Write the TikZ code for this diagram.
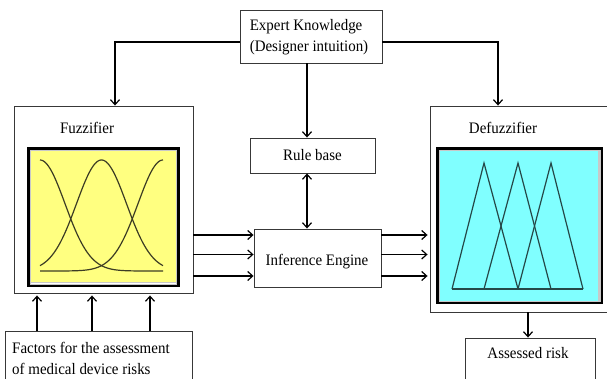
\documentclass[tikz,border=0pt]{standalone}
\usepackage{fontspec}
\setmainfont{Liberation Serif}[FakeStretch=0.935]
\usetikzlibrary{arrows.meta}

\definecolor{fuzzyellow}{HTML}{FFFF80}
\definecolor{defuzzcyan}{HTML}{80FFFF}
\definecolor{boxline}{HTML}{383838}
\definecolor{mfcurve}{HTML}{3C3C24}
\definecolor{mftri}{HTML}{254848}
\definecolor{innerrim}{HTML}{C8C8C8}

\tikzset{
  box/.style={draw=boxline, line width=0.9pt, fill=white, inner sep=0pt},
  lbl/.style={font=\fontsize{16}{21}\selectfont, inner sep=0pt, text=black},
  arr/.style={draw=black, line width=1.3pt, -{Straight Barb[length=5pt,width=9pt,line width=1.2pt]}},
  darr/.style={draw=black, line width=1.3pt, {Straight Barb[length=5pt,width=9pt,line width=1.2pt]}-{Straight Barb[length=5pt,width=9pt,line width=1.2pt]}},
  curve/.style={draw=mfcurve, line width=1.2pt},
  tri/.style={draw=mftri, line width=1.2pt, line join=miter},
}

\begin{document}
\begin{tikzpicture}[x=1pt, y=-1pt]
\useasboundingbox (0,0) rectangle (607,379);
\clip (0,0) rectangle (607,379);

% ---------- outer stage boxes ----------
\node[box, minimum width=179pt, minimum height=187pt] (fuzz) at (103.5,199.5) {};
\node[box, minimum width=200pt, minimum height=206pt] (defuzz) at (530,209) {};

% ---------- fuzzifier panel ----------
\node[lbl] (fuzzlabel) at (87,128) {Fuzzifier};
\fill[black] (27,147) rectangle (180,287);
\fill[innerrim] (30,150) rectangle (177,285);
\fill[fuzzyellow] (31,151) rectangle (176,282);
\fill[white] (31,282.6) rectangle (176,284);
\begin{scope}
  \clip (31,151) rectangle (176,282);
  \draw[curve] plot[domain=40:163, samples=90, smooth] (\x,{271-111*exp(-((\x-40)^2)/1250)});
  \draw[curve] plot[domain=40:163, samples=90, smooth] (\x,{271-111*exp(-((\x-101.5)^2)/1250)});
  \draw[curve] plot[domain=40:163, samples=90, smooth] (\x,{271-111*exp(-((\x-163)^2)/1250)});
\end{scope}

% ---------- defuzzifier panel ----------
\node[lbl] (defuzzlabel) at (503,128) {Defuzzifier};
\fill[black] (436,147) rectangle (603,304);
\fill[innerrim] (439,150) rectangle (601,302);
\fill[defuzzcyan] (440,151) rectangle (598,301);
\draw[tri] (452,289) -- (484,163) -- (518,289);
\draw[tri] (484,289) -- (518,163) -- (551,289);
\draw[tri] (518,289) -- (551,163) -- (583,289);
\draw[tri] (452,289) -- (583,289);

% ---------- central boxes ----------
\node[box, minimum width=142pt, minimum height=53pt] (expert) at (311,36.5) {};
\node[lbl, align=left] (experttext) at (309,37.5) {Expert Knowledge\\(Designer intuition)};
\node[box, minimum width=125pt, minimum height=35pt] (rules) at (312.5,155.5) {};
\node[lbl] (rulestext) at (312.5,155) {Rule base};
\node[box, minimum width=127pt, minimum height=58pt] (infer) at (317.5,258) {};
\node[lbl] (infertext) at (317,262) {Inference Engine};

% ---------- input and output boxes ----------
\node[box, minimum width=187pt, minimum height=64pt] (factors) at (98.5,363) {};
\node[lbl, align=left, anchor=west] (factorstext) at (12,358.5) {Factors for the assessment\\of medical device risks};
\node[box, minimum width=130pt, minimum height=57pt] (assessed) at (530,366.5) {};
\node[lbl] (assessedtext) at (528,353) {Assessed risk};

% ---------- helper coordinates ----------
\coordinate (hy) at (0,42);
\coordinate (lx) at (115,0);
\coordinate (rx) at (498,0);
\coordinate (mx) at (307,0);
\coordinate (r1) at (0,235);
\coordinate (r2) at (0,254.5);
\coordinate (r3) at (0,276);
\coordinate (i1) at (37,0);
\coordinate (i2) at (92,0);
\coordinate (i3) at (150,0);
\coordinate (ox) at (528,0);

% ---------- connectors ----------
\draw[arr] (expert.west |- hy) -| (fuzz.north -| lx);
\draw[arr] (expert.east |- hy) -| (defuzz.north -| rx);
\draw[arr] (expert.south -| mx) -- (rules.north -| mx);
\draw[darr] (rules.south -| mx) -- (infer.north -| mx);

\foreach \r in {r1,r2,r3} {
  \draw[arr] (fuzz.east |- \r) -- (infer.west |- \r);
  \draw[arr] (infer.east |- \r) -- ([xshift=-2pt]defuzz.west |- \r);
}

\foreach \i in {i1,i2,i3} {
  \draw[arr] (factors.north -| \i) -- ([yshift=-2pt]fuzz.south -| \i);
}

\draw[arr] (defuzz.south -| ox) -- (assessed.north -| ox);
\end{tikzpicture}
\end{document}
